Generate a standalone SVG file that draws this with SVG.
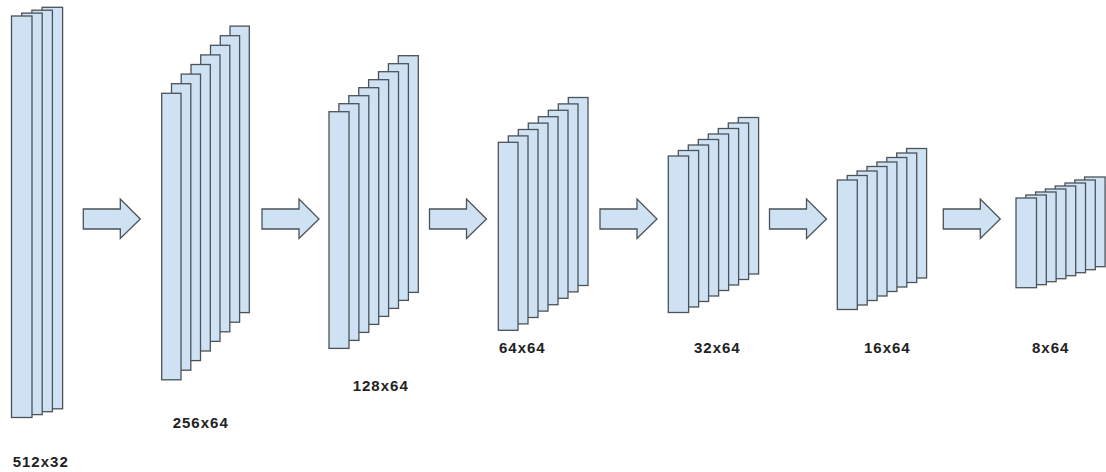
<svg xmlns="http://www.w3.org/2000/svg" xmlns:xlink="http://www.w3.org/1999/xlink" width="1106" height="472" viewBox="0 0 1106 472">
  <style>
    .map { fill: #cfe2f3; stroke: #4b5258; stroke-width: 1.3; }
    .arrow { fill: #cfe2f3; stroke: #4b5258; stroke-width: 1.3; stroke-linejoin: miter; }
    .label { font-family: "Liberation Sans", Arial, sans-serif; font-weight: bold; font-size: 15px; letter-spacing: 1px; fill: #222222; }
  </style>
  <defs>
    <!-- block arrow between layers, drawn around its mid-line at y = 0 -->
    <path id="step" d="M0,-10 H37 V-20 L57,0 L37,19.5 V10 H0 Z"/>
  </defs>
  <rect width="1106" height="472" fill="#ffffff"/>

  <!-- layer 1: 512x32 -->
  <g id="layer-512x32">
    <rect class="map" x="42.1" y="7.3" width="20.5" height="401.5"/>
    <rect class="map" x="31.9" y="10.2" width="20.5" height="401.5"/>
    <rect class="map" x="21.7" y="13.1" width="20.5" height="401.5"/>
    <rect class="map" x="11.5" y="16" width="20.5" height="401.5"/>
    <text class="label" x="12.7" y="466.5">512x32</text>
  </g>

  <!-- layer 2: 256x64 -->
  <g id="layer-256x64">
    <rect class="map" x="230.0" y="26.1" width="19.3" height="286.5"/>
    <rect class="map" x="220.3" y="35.7" width="19.3" height="286.5"/>
    <rect class="map" x="210.5" y="45.3" width="19.3" height="286.5"/>
    <rect class="map" x="200.7" y="54.9" width="19.3" height="286.5"/>
    <rect class="map" x="191.0" y="64.5" width="19.3" height="286.5"/>
    <rect class="map" x="181.2" y="74.1" width="19.3" height="286.5"/>
    <rect class="map" x="171.5" y="83.7" width="19.3" height="286.5"/>
    <rect class="map" x="161.7" y="93.3" width="19.3" height="286.5"/>
    <text class="label" x="172.7" y="427.6">256x64</text>
  </g>

  <!-- layer 3: 128x64 -->
  <g id="layer-128x64">
    <rect class="map" x="398.3" y="55.7" width="20" height="236.7"/>
    <rect class="map" x="388.4" y="63.7" width="20" height="236.7"/>
    <rect class="map" x="378.5" y="71.7" width="20" height="236.7"/>
    <rect class="map" x="368.6" y="79.7" width="20" height="236.7"/>
    <rect class="map" x="358.7" y="87.7" width="20" height="236.7"/>
    <rect class="map" x="348.8" y="95.7" width="20" height="236.7"/>
    <rect class="map" x="338.9" y="103.7" width="20" height="236.7"/>
    <rect class="map" x="329" y="111.7" width="20" height="236.7"/>
    <text class="label" x="352.7" y="390.6">128x64</text>
  </g>

  <!-- layer 4: 64x64 -->
  <g id="layer-64x64">
    <rect class="map" x="568.3" y="97.5" width="19.7" height="188"/>
    <rect class="map" x="558.3" y="103.9" width="19.7" height="188"/>
    <rect class="map" x="548.3" y="110.3" width="19.7" height="188"/>
    <rect class="map" x="538.3" y="116.7" width="19.7" height="188"/>
    <rect class="map" x="528.3" y="123.1" width="19.7" height="188"/>
    <rect class="map" x="518.3" y="129.5" width="19.7" height="188"/>
    <rect class="map" x="508.3" y="135.9" width="19.7" height="188"/>
    <rect class="map" x="498.3" y="142.3" width="19.7" height="188"/>
    <text class="label" x="499" y="352.5">64x64</text>
  </g>

  <!-- layer 5: 32x64 -->
  <g id="layer-32x64">
    <rect class="map" x="738.3" y="117.5" width="20.3" height="156.5"/>
    <rect class="map" x="728.3" y="123" width="20.3" height="156.5"/>
    <rect class="map" x="718.3" y="128.5" width="20.3" height="156.5"/>
    <rect class="map" x="708.3" y="134" width="20.3" height="156.5"/>
    <rect class="map" x="698.3" y="139.5" width="20.3" height="156.5"/>
    <rect class="map" x="688.3" y="145" width="20.3" height="156.5"/>
    <rect class="map" x="678.3" y="150.5" width="20.3" height="156.5"/>
    <rect class="map" x="668.3" y="156" width="20.3" height="156.5"/>
    <text class="label" x="694" y="352.5">32x64</text>
  </g>

  <!-- layer 6: 16x64 -->
  <g id="layer-16x64">
    <rect class="map" x="906.6" y="148.5" width="20" height="129.5"/>
    <rect class="map" x="896.7" y="153" width="20" height="129.5"/>
    <rect class="map" x="886.8" y="157.5" width="20" height="129.5"/>
    <rect class="map" x="876.9" y="162" width="20" height="129.5"/>
    <rect class="map" x="867.0" y="166.5" width="20" height="129.5"/>
    <rect class="map" x="857.1" y="171" width="20" height="129.5"/>
    <rect class="map" x="847.2" y="175.5" width="20" height="129.5"/>
    <rect class="map" x="837.3" y="180" width="20" height="129.5"/>
    <text class="label" x="864" y="352.5">16x64</text>
  </g>

  <!-- layer 7: 8x64 -->
  <g id="layer-8x64">
    <rect class="map" x="1084.6" y="177" width="20.5" height="89.7"/>
    <rect class="map" x="1074.8" y="180" width="20.5" height="89.7"/>
    <rect class="map" x="1065" y="183" width="20.5" height="89.7"/>
    <rect class="map" x="1055.2" y="186" width="20.5" height="89.7"/>
    <rect class="map" x="1045.4" y="189" width="20.5" height="89.7"/>
    <rect class="map" x="1035.6" y="192" width="20.5" height="89.7"/>
    <rect class="map" x="1025.8" y="195" width="20.5" height="89.7"/>
    <rect class="map" x="1016" y="198" width="20.5" height="89.7"/>
    <text class="label" x="1032" y="352.5">8x64</text>
  </g>

  <!-- arrows between consecutive layers -->
  <g id="connectors">
    <use class="arrow" xlink:href="#step" href="#step" transform="translate(83.3,219)"/>
    <use class="arrow" xlink:href="#step" href="#step" transform="translate(262,219)"/>
    <use class="arrow" xlink:href="#step" href="#step" transform="translate(429.5,219)"/>
    <use class="arrow" xlink:href="#step" href="#step" transform="translate(600,219)"/>
    <use class="arrow" xlink:href="#step" href="#step" transform="translate(769.5,219)"/>
    <use class="arrow" xlink:href="#step" href="#step" transform="translate(943.3,219)"/>
  </g>
</svg>
